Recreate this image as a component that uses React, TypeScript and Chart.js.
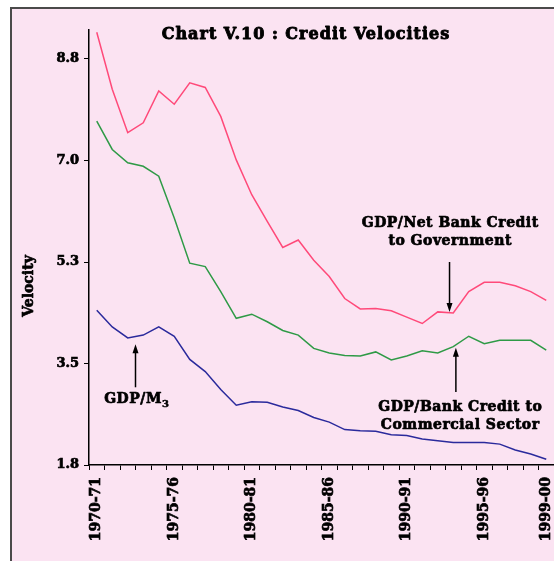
import React, { useEffect, useRef } from "react";
import { Chart, registerables } from "chart.js";

Chart.register(...registerables);

const years = [
  "1970-71", "1971-72", "1972-73", "1973-74", "1974-75",
  "1975-76", "1976-77", "1977-78", "1978-79", "1979-80",
  "1980-81", "1981-82", "1982-83", "1983-84", "1984-85",
  "1985-86", "1986-87", "1987-88", "1988-89", "1989-90",
  "1990-91", "1991-92", "1992-93", "1993-94", "1994-95",
  "1995-96", "1996-97", "1997-98", "1998-99", "1999-00",
];
const labeledYears = ["1970-71", "1975-76", "1980-81", "1985-86", "1990-91", "1995-96", "1999-00"];

const gdpNetBankCreditGovt = [
  9.21, 8.23, 7.48, 7.65, 8.2, 7.97, 8.34, 8.26, 7.76, 7.01,
  6.41, 5.95, 5.5, 5.63, 5.28, 5.0, 4.62, 4.44, 4.45, 4.41,
  4.3, 4.19, 4.39, 4.37, 4.74, 4.9, 4.9, 4.84, 4.74, 4.59,
];
const gdpBankCreditCommercial = [
  7.68, 7.19, 6.96, 6.9, 6.73, 6.01, 5.23, 5.17, 4.74, 4.28,
  4.35, 4.22, 4.07, 3.99, 3.76, 3.68, 3.64, 3.63, 3.7, 3.56,
  3.63, 3.72, 3.68, 3.79, 3.97, 3.84, 3.9, 3.9, 3.9, 3.73,
];
const gdpM3 = [
  4.42, 4.13, 3.94, 3.99, 4.13, 3.97, 3.57, 3.36, 3.05, 2.78,
  2.84, 2.83, 2.75, 2.69, 2.57, 2.49, 2.36, 2.34, 2.33, 2.27,
  2.26, 2.2, 2.17, 2.14, 2.14, 2.14, 2.11, 2.01, 1.94, 1.85,
];

const yTickValues = [1.75, 3.5, 5.25, 7.0, 8.75];
const yTickLabels = ["1.8", "3.5", "5.3", "7.0", "8.8"];
const yMin = 1.75;
const yMax = 9.25;

const chartTitle = "Chart V.10 : Credit Velocities";
const yAxisTitle = "Velocity";

const FONT = "'DejaVu Serif', 'Liberation Serif', serif";

const heavyText = (ctx: any, s: string, x: number, y: number, w = 0.7) => {
  ctx.lineWidth = w;
  ctx.lineJoin = "round";
  ctx.fillText(s, x, y);
  ctx.strokeText(s, x, y);
};

const decorPlugin = {
  id: "decor",
  beforeDraw(chart: any) {
    const ctx = chart.ctx;
    const w = chart.width;
    const h = chart.height;
    ctx.save();
    ctx.fillStyle = "#ffffff";
    ctx.fillRect(0, 0, w, h);
    ctx.fillStyle = "#fbe3f2";
    ctx.fillRect(10, 7, w - 10, h - 7);
    ctx.strokeStyle = "#4a4a4a";
    ctx.lineWidth = 2;
    ctx.beginPath();
    ctx.moveTo(11, h);
    ctx.lineTo(11, 8);
    ctx.lineTo(w, 8);
    ctx.stroke();
    ctx.restore();
  },
  afterDraw(chart: any) {
    const ctx = chart.ctx;
    const xs = chart.scales.x;
    const ys = chart.scales.y;
    ctx.save();
    ctx.fillStyle = "#000";
    ctx.strokeStyle = "#000";

    // title
    ctx.font = `bold 16px ${FONT}`;
    (ctx as any).letterSpacing = "1px";
    ctx.textAlign = "center";
    ctx.textBaseline = "middle";
    heavyText(ctx, chartTitle, 306, 35, 0.9);

    // y axis title
    ctx.font = `bold 14px ${FONT}`;
    (ctx as any).letterSpacing = "0px";
    ctx.save();
    ctx.translate(29, 286);
    ctx.rotate(-Math.PI / 2);
    heavyText(ctx, yAxisTitle, 0, 0);
    ctx.restore();

    const arrow = (idx: number, fromV: number, toV: number) => {
      const x = xs.getPixelForValue(idx);
      const y1 = ys.getPixelForValue(fromV);
      const y2 = ys.getPixelForValue(toV);
      const dir = y2 > y1 ? 1 : -1;
      ctx.lineWidth = 1.5;
      ctx.beginPath();
      ctx.moveTo(x, y1);
      ctx.lineTo(x, y2 - dir * 8);
      ctx.stroke();
      ctx.beginPath();
      ctx.moveTo(x - 3, y2 - dir * 9);
      ctx.lineTo(x + 3, y2 - dir * 9);
      ctx.lineTo(x, y2);
      ctx.closePath();
      ctx.fill();
    };

    const text = (idx: number, v: number, s: string) => {
      heavyText(ctx, s, xs.getPixelForValue(idx), ys.getPixelForValue(v));
    };

    ctx.font = `bold 14px ${FONT}`;
    (ctx as any).letterSpacing = "0.5px";
    ctx.textAlign = "center";
    ctx.textBaseline = "middle";

    // GDP / Net bank credit to government
    text(22.8, 5.92, "GDP/Net Bank Credit");
    text(22.8, 5.6, "to Government");
    arrow(22.76, 5.25, 4.39);

    // GDP / Bank credit to commercial sector
    text(23.45, 2.74, "GDP/Bank Credit to");
    text(23.45, 2.44, "Commercial Sector");
    arrow(23.17, 3.01, 3.77);

    // GDP / M3
    arrow(2.5, 3.09, 3.83);
    const main = "GDP/M";
    const sub = "3";
    const mw = ctx.measureText(main).width;
    ctx.font = `bold 10px ${FONT}`;
    const sw = ctx.measureText(sub).width;
    const cx = xs.getPixelForValue(2.58);
    const cy = ys.getPixelForValue(2.88);
    const left = cx - (mw + sw) / 2;
    ctx.textAlign = "left";
    ctx.font = `bold 14px ${FONT}`;
    heavyText(ctx, main, left, cy);
    ctx.font = `bold 10px ${FONT}`;
    heavyText(ctx, sub, left + mw, cy + 5, 0.5);

    ctx.restore();
  },
};

export default function App() {
  const canvasRef = useRef<HTMLCanvasElement | null>(null);

  useEffect(() => {
    const canvas = canvasRef.current;
    if (!canvas) return;
    const tickFont = { family: FONT, weight: "bold" as const, size: 13 };
    const chart = new Chart(canvas, {
      type: "line",
      data: {
        labels: years,
        datasets: [
          {
            label: "GDP/Net Bank Credit to Government",
            data: gdpNetBankCreditGovt,
            borderColor: "#ff4a7a",
            borderWidth: 1.5,
            pointRadius: 0,
            tension: 0,
          },
          {
            label: "GDP/Bank Credit to Commercial Sector",
            data: gdpBankCreditCommercial,
            borderColor: "#2e9a46",
            borderWidth: 1.5,
            pointRadius: 0,
            tension: 0,
          },
          {
            label: "GDP/M3",
            data: gdpM3,
            borderColor: "#2a2a9c",
            borderWidth: 1.5,
            pointRadius: 0,
            tension: 0,
          },
        ],
      },
      options: {
        responsive: false,
        animation: false,
        layout: { padding: { top: 30, right: 0, left: 0, bottom: 0 } },
        plugins: {
          legend: { display: false },
          title: { display: false },
          tooltip: { enabled: false },
        },
        scales: {
          x: {
            type: "category",
            offset: true,
            grid: {
              offset: true,
              drawOnChartArea: false,
              drawTicks: true,
              tickLength: 5,
              color: "#000",
              lineWidth: 1,
            },
            border: { color: "#000", width: 1.5 },
            ticks: {
              autoSkip: false,
              maxRotation: 90,
              minRotation: 90,
              padding: 7,
              color: "#000",
              textStrokeColor: "#000",
              textStrokeWidth: 0.7,
              font: { ...tickFont, size: 14 },
              callback: (_v: any, i: number) => (labeledYears.includes(years[i]) ? years[i] : ""),
            },
            afterFit: (s: any) => {
              s.height = 96;
              s.paddingLeft = 0;
              s.paddingRight = 0;
            },
          },
          y: {
            type: "linear",
            min: yMin,
            max: yMax,
            afterBuildTicks: (s: any) => {
              s.ticks = yTickValues.map((v) => ({ value: v }));
            },
            grid: {
              drawOnChartArea: false,
              drawTicks: true,
              tickLength: 5,
              color: "#000",
            },
            border: { color: "#000", width: 1.5 },
            ticks: {
              padding: 5,
              color: "#000",
              textStrokeColor: "#000",
              textStrokeWidth: 0.7,
              font: tickFont,
              callback: (v: any) => {
                const i = yTickValues.indexOf(Number(v));
                return i >= 0 ? yTickLabels[i] : "";
              },
            },
            afterFit: (s: any) => {
              s.width = 89;
            },
          },
        },
      },
      plugins: [decorPlugin],
    });
    return () => chart.destroy();
  }, []);

  return (
    <div style={{ position: "fixed", left: 0, top: 0, width: 554, height: 561, overflow: "hidden" }}>
      <canvas ref={canvasRef} width={554} height={561} style={{ display: "block" }} />
    </div>
  );
}
